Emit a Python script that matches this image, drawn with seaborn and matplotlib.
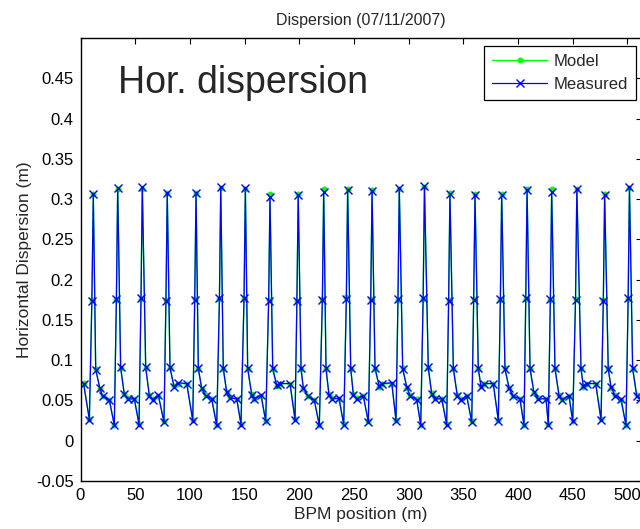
import matplotlib
matplotlib.use("Agg")
import matplotlib.pyplot as plt
import pandas as pd
import seaborn as sns

# ---------------- data ----------------
title = "Dispersion (07/11/2007)"
x_label = "BPM position (m)"
y_label = "Horizontal Dispersion (m)"
annotation = "Hor. dispersion"
series_names = ["Model", "Measured"]

bpm_s = [
    2.8,
    8.1, 10.4, 11.7, 13.9, 17.8, 20.3, 26.3,
    30.9, 32.8, 34.0, 36.7, 40.0, 43.1, 49.2,
    53.5, 55.3, 56.5, 59.6, 62.9, 66.0, 71.1,
    76.3, 78.1, 79.3, 81.8, 85.5, 88.8, 97.1,
    102.6, 104.4, 105.6, 107.7, 110.8, 114.4, 119.9,
    124.5, 127.0, 128.2, 130.5, 133.6, 136.7, 142.8,
    146.7, 149.5, 150.7, 152.8, 156.5, 158.9, 165.0,
    169.3, 172.0, 173.2, 175.7, 179.3, 182.4, 191.5,
    196.1, 197.8, 199.0, 201.6, 203.7, 208.2, 213.7,
    218.3, 221.1, 222.3, 224.4, 227.1, 229.6, 236.3,
    240.6, 243.0, 244.2, 247.0, 249.4, 252.5, 258.5,
    263.1, 265.3, 266.5, 269.2, 273.1, 275.9, 284.5,
    288.4, 290.2, 291.4, 294.5, 298.2, 301.2, 307.3,
    311.0, 313.2, 314.4, 317.9, 321.0, 324.0, 330.2,
    334.7, 336.5, 337.7, 340.8, 344.4, 347.8, 353.0,
    357.6, 359.4, 360.6, 363.6, 366.1, 369.1, 377.3,
    381.9, 383.8, 385.0, 388.0, 391.7, 395.6, 401.7,
    405.4, 407.0, 408.2, 410.9, 414.5, 418.5, 425.5,
    427.6, 429.5, 430.7, 433.7, 437.4, 440.4, 446.5,
    449.9, 452.5, 453.7, 457.5, 459.6, 462.7, 470.9,
    475.8, 477.9, 479.1, 482.4, 484.9, 488.6, 494.0,
    498.6, 500.6, 501.8, 504.7, 508.4, 511.5, 517.6,
]

measured = [
    0.071,
    0.026, 0.174, 0.306, 0.088, 0.065, 0.055, 0.051,
    0.019, 0.176, 0.314, 0.091, 0.058, 0.052, 0.052,
    0.020, 0.177, 0.315, 0.091, 0.056, 0.051, 0.057,
    0.023, 0.174, 0.308, 0.091, 0.067, 0.072, 0.071,
    0.025, 0.175, 0.308, 0.090, 0.065, 0.056, 0.052,
    0.019, 0.177, 0.315, 0.090, 0.061, 0.053, 0.052,
    0.020, 0.177, 0.314, 0.090, 0.057, 0.052, 0.057,
    0.024, 0.174, 0.303, 0.090, 0.069, 0.071, 0.071,
    0.026, 0.173, 0.305, 0.090, 0.065, 0.055, 0.050,
    0.019, 0.175, 0.309, 0.090, 0.057, 0.052, 0.053,
    0.020, 0.176, 0.311, 0.090, 0.057, 0.052, 0.056,
    0.023, 0.175, 0.310, 0.090, 0.068, 0.071, 0.072,
    0.025, 0.176, 0.314, 0.089, 0.067, 0.056, 0.051,
    0.019, 0.177, 0.316, 0.091, 0.058, 0.052, 0.052,
    0.020, 0.174, 0.306, 0.090, 0.056, 0.051, 0.056,
    0.023, 0.175, 0.305, 0.090, 0.067, 0.071, 0.071,
    0.025, 0.176, 0.305, 0.089, 0.066, 0.055, 0.052,
    0.019, 0.177, 0.311, 0.090, 0.060, 0.052, 0.052,
    0.020, 0.176, 0.309, 0.090, 0.056, 0.051, 0.056,
    0.024, 0.175, 0.313, 0.090, 0.068, 0.071, 0.071,
    0.026, 0.174, 0.305, 0.089, 0.067, 0.056, 0.052,
    0.019, 0.177, 0.315, 0.090, 0.056, 0.052, 0.052,
]

model = [
    0.072,
    0.027, 0.175, 0.306, 0.089, 0.064, 0.056, 0.051,
    0.020, 0.175, 0.313, 0.090, 0.058, 0.053, 0.052,
    0.021, 0.176, 0.312, 0.090, 0.057, 0.052, 0.056,
    0.024, 0.175, 0.307, 0.090, 0.068, 0.071, 0.071,
    0.026, 0.176, 0.307, 0.089, 0.064, 0.057, 0.052,
    0.020, 0.176, 0.314, 0.089, 0.060, 0.054, 0.052,
    0.021, 0.176, 0.313, 0.089, 0.058, 0.052, 0.056,
    0.025, 0.175, 0.306, 0.089, 0.068, 0.071, 0.071,
    0.027, 0.174, 0.306, 0.089, 0.064, 0.056, 0.051,
    0.020, 0.176, 0.313, 0.089, 0.058, 0.053, 0.052,
    0.021, 0.178, 0.313, 0.089, 0.058, 0.053, 0.055,
    0.024, 0.176, 0.311, 0.089, 0.067, 0.071, 0.071,
    0.026, 0.175, 0.313, 0.090, 0.066, 0.057, 0.052,
    0.020, 0.176, 0.315, 0.090, 0.059, 0.053, 0.052,
    0.021, 0.175, 0.307, 0.089, 0.057, 0.052, 0.055,
    0.024, 0.176, 0.306, 0.089, 0.068, 0.071, 0.071,
    0.026, 0.175, 0.306, 0.090, 0.065, 0.056, 0.052,
    0.020, 0.176, 0.313, 0.089, 0.059, 0.053, 0.052,
    0.021, 0.175, 0.312, 0.089, 0.057, 0.052, 0.055,
    0.025, 0.176, 0.312, 0.089, 0.067, 0.071, 0.071,
    0.027, 0.175, 0.306, 0.090, 0.066, 0.057, 0.051,
    0.020, 0.176, 0.314, 0.089, 0.057, 0.053, 0.052,
]

x_ticks = [0, 50, 100, 150, 200, 250, 300, 350, 400, 450, 500]
x_tick_labels = ["0", "50", "100", "150", "200", "250", "300", "350", "400", "450", "500"]
y_ticks = [-0.05, 0.0, 0.05, 0.1, 0.15, 0.2, 0.25, 0.3, 0.35, 0.4, 0.45]
y_tick_labels = ["-0.05", "0", "0.05", "0.1", "0.15", "0.2", "0.25", "0.3", "0.35", "0.4", "0.45"]

# ---------------- style ----------------
sns.set_style("white")
plt.rcParams["font.family"] = ["Liberation Sans", "DejaVu Sans"]
plt.rcParams["axes.unicode_minus"] = False

W, H = 640, 529
fig = plt.figure(figsize=(W / 100, H / 100), dpi=100)
fig.patch.set_facecolor("white")
ax_left, ax_right, ax_top, ax_bottom = 80.5, 641.5, 38.0, 481.0
ax = fig.add_axes([ax_left / W, 1 - ax_bottom / H, (ax_right - ax_left) / W, (ax_bottom - ax_top) / H])

df = pd.DataFrame({"s": bpm_s, "model": model, "measured": measured})

sns.lineplot(data=df, x="s", y="model", ax=ax, color=(0, 1, 0), marker=".",
             markersize=7, markeredgecolor=(0, 1, 0), linewidth=1.0,
             sort=False, estimator=None)
sns.lineplot(data=df, x="s", y="measured", ax=ax, color=(0, 0, 1), marker="x",
             markersize=5.5, markeredgewidth=1.0, markeredgecolor=(0, 0, 1),
             linewidth=0.9, sort=False, estimator=None)

lines = ax.get_lines()
ax.legend(lines[:2], series_names, loc="upper right",
          bbox_to_anchor=(636 / W, 1 - 46 / H), bbox_transform=fig.transFigure,
          borderaxespad=0, fontsize=12, frameon=True, fancybox=False,
          framealpha=1, edgecolor="black", handlelength=3.3, handletextpad=0.35,
          borderpad=0.5, labelspacing=0.45)
ax.get_legend().get_frame().set_linewidth(0.9)

ax.set_xlim(0, 512.8)
ax.set_ylim(-0.05, 0.5)
ax.set_xticks(x_ticks)
ax.set_xticklabels(x_tick_labels)
ax.set_yticks(y_ticks)
ax.set_yticklabels(y_tick_labels)
ax.tick_params(direction="in", top=True, right=True, length=4.5, width=0.8,
               labelsize=12, pad=5, colors="black")
for sp in ax.spines.values():
    sp.set_visible(True)
    sp.set_color("black")
    sp.set_linewidth(1.0)

ax.set_title(title, fontsize=11.5, pad=9)
ax.set_xlabel(x_label, fontsize=12.5, labelpad=3)
ax.set_ylabel(y_label, fontsize=12.5, labelpad=3)

ax.text(34.3, 0.4316, annotation, fontsize=27, va="baseline", ha="left")

fig.savefig("out.png", dpi=100)
